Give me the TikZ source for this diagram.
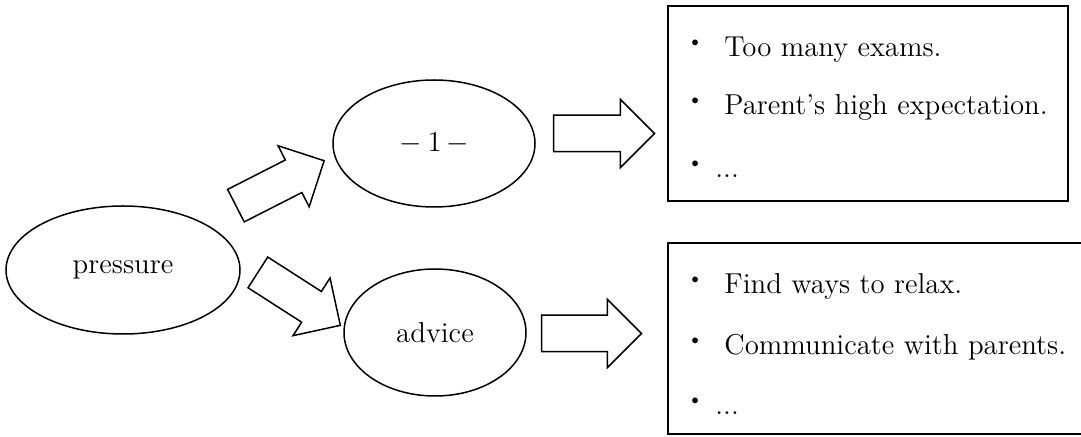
\documentclass[tikz,border=0pt]{standalone}
\usepackage{tikz}
\usetikzlibrary{positioning}
\usetikzlibrary{shapes.geometric,shapes.arrows}
\newcommand{\itembullet}[1][18.5pt]{\makebox[#1][l]{\raisebox{4.5pt}{\fontsize{10}{10}\selectfont\textbullet}}}

\begin{document}
\begin{tikzpicture}[x=0.5pt, y=-0.5pt,
    font=\fontsize{14.4}{17}\selectfont,
    oval/.style={draw, ellipse, line width=0.75pt, inner sep=0pt},
    fatarrow/.style={draw, single arrow, line width=0.75pt, inner xsep=0pt, inner ysep=8.75pt,
        single arrow head extend=8pt, anchor=tail},
    listbox/.style={draw, rectangle, line width=1pt, inner sep=0pt, anchor=north west},
    item/.style={inner sep=0pt, anchor=base west}]

    \useasboundingbox (0,0) rectangle (1081,437);
    \clip (0,0) rectangle (1081,437);

    %Ovals
    \node[oval, minimum width=117pt, minimum height=64pt] (Pressure) at (123,270) {pressure};
    \node[oval, minimum width=101pt, minimum height=63.5pt] (Cause) at (434,143.5) {$-$\hspace{3pt}1\,$-$};
    \node[oval, minimum width=91pt, minimum height=63.5pt] (Advice) at (435,332.5) {advice};

    %Arrows
    \node[fatarrow, minimum height=49.5pt, rotate=27] (PressureToCause) at ([shift={(-5.5,-64)}]Pressure.east) {};
    \node[fatarrow, minimum height=49pt, rotate=-32.7] (PressureToAdvice) at ([shift={(16.5,2)}]Pressure.east) {};
    \node[fatarrow, minimum height=50.5pt] (CauseToBox) at ([shift={(17,-10)}]Cause.east) {};
    \node[fatarrow, minimum height=50pt] (AdviceToBox) at ([shift={(14,1)}]Advice.east) {};

    %-------------------------------------------
    %Boxes
    \node[listbox, minimum width=200pt, minimum height=97.5pt] (CauseBox) at (667,5) {};
    \node[listbox, minimum width=215pt, minimum height=95.5pt] (AdviceBox) at (667,242) {};

    \node[item] (CauseItem1) at (687,57) {\itembullet Too many exams.};
    \node[item] (CauseItem2) at (687,115) {\itembullet Parent's high expectation.};
    \node[item] (CauseItem3) at (687,178) {\itembullet[14pt]...};

    \node[item] (AdviceItem1) at (687,294) {\itembullet Find ways to relax.};
    \node[item] (AdviceItem2) at (687,355) {\itembullet Communicate with parents.};
    \node[item] (AdviceItem3) at (687,415) {\itembullet[14pt]...};

\end{tikzpicture}
\end{document}
